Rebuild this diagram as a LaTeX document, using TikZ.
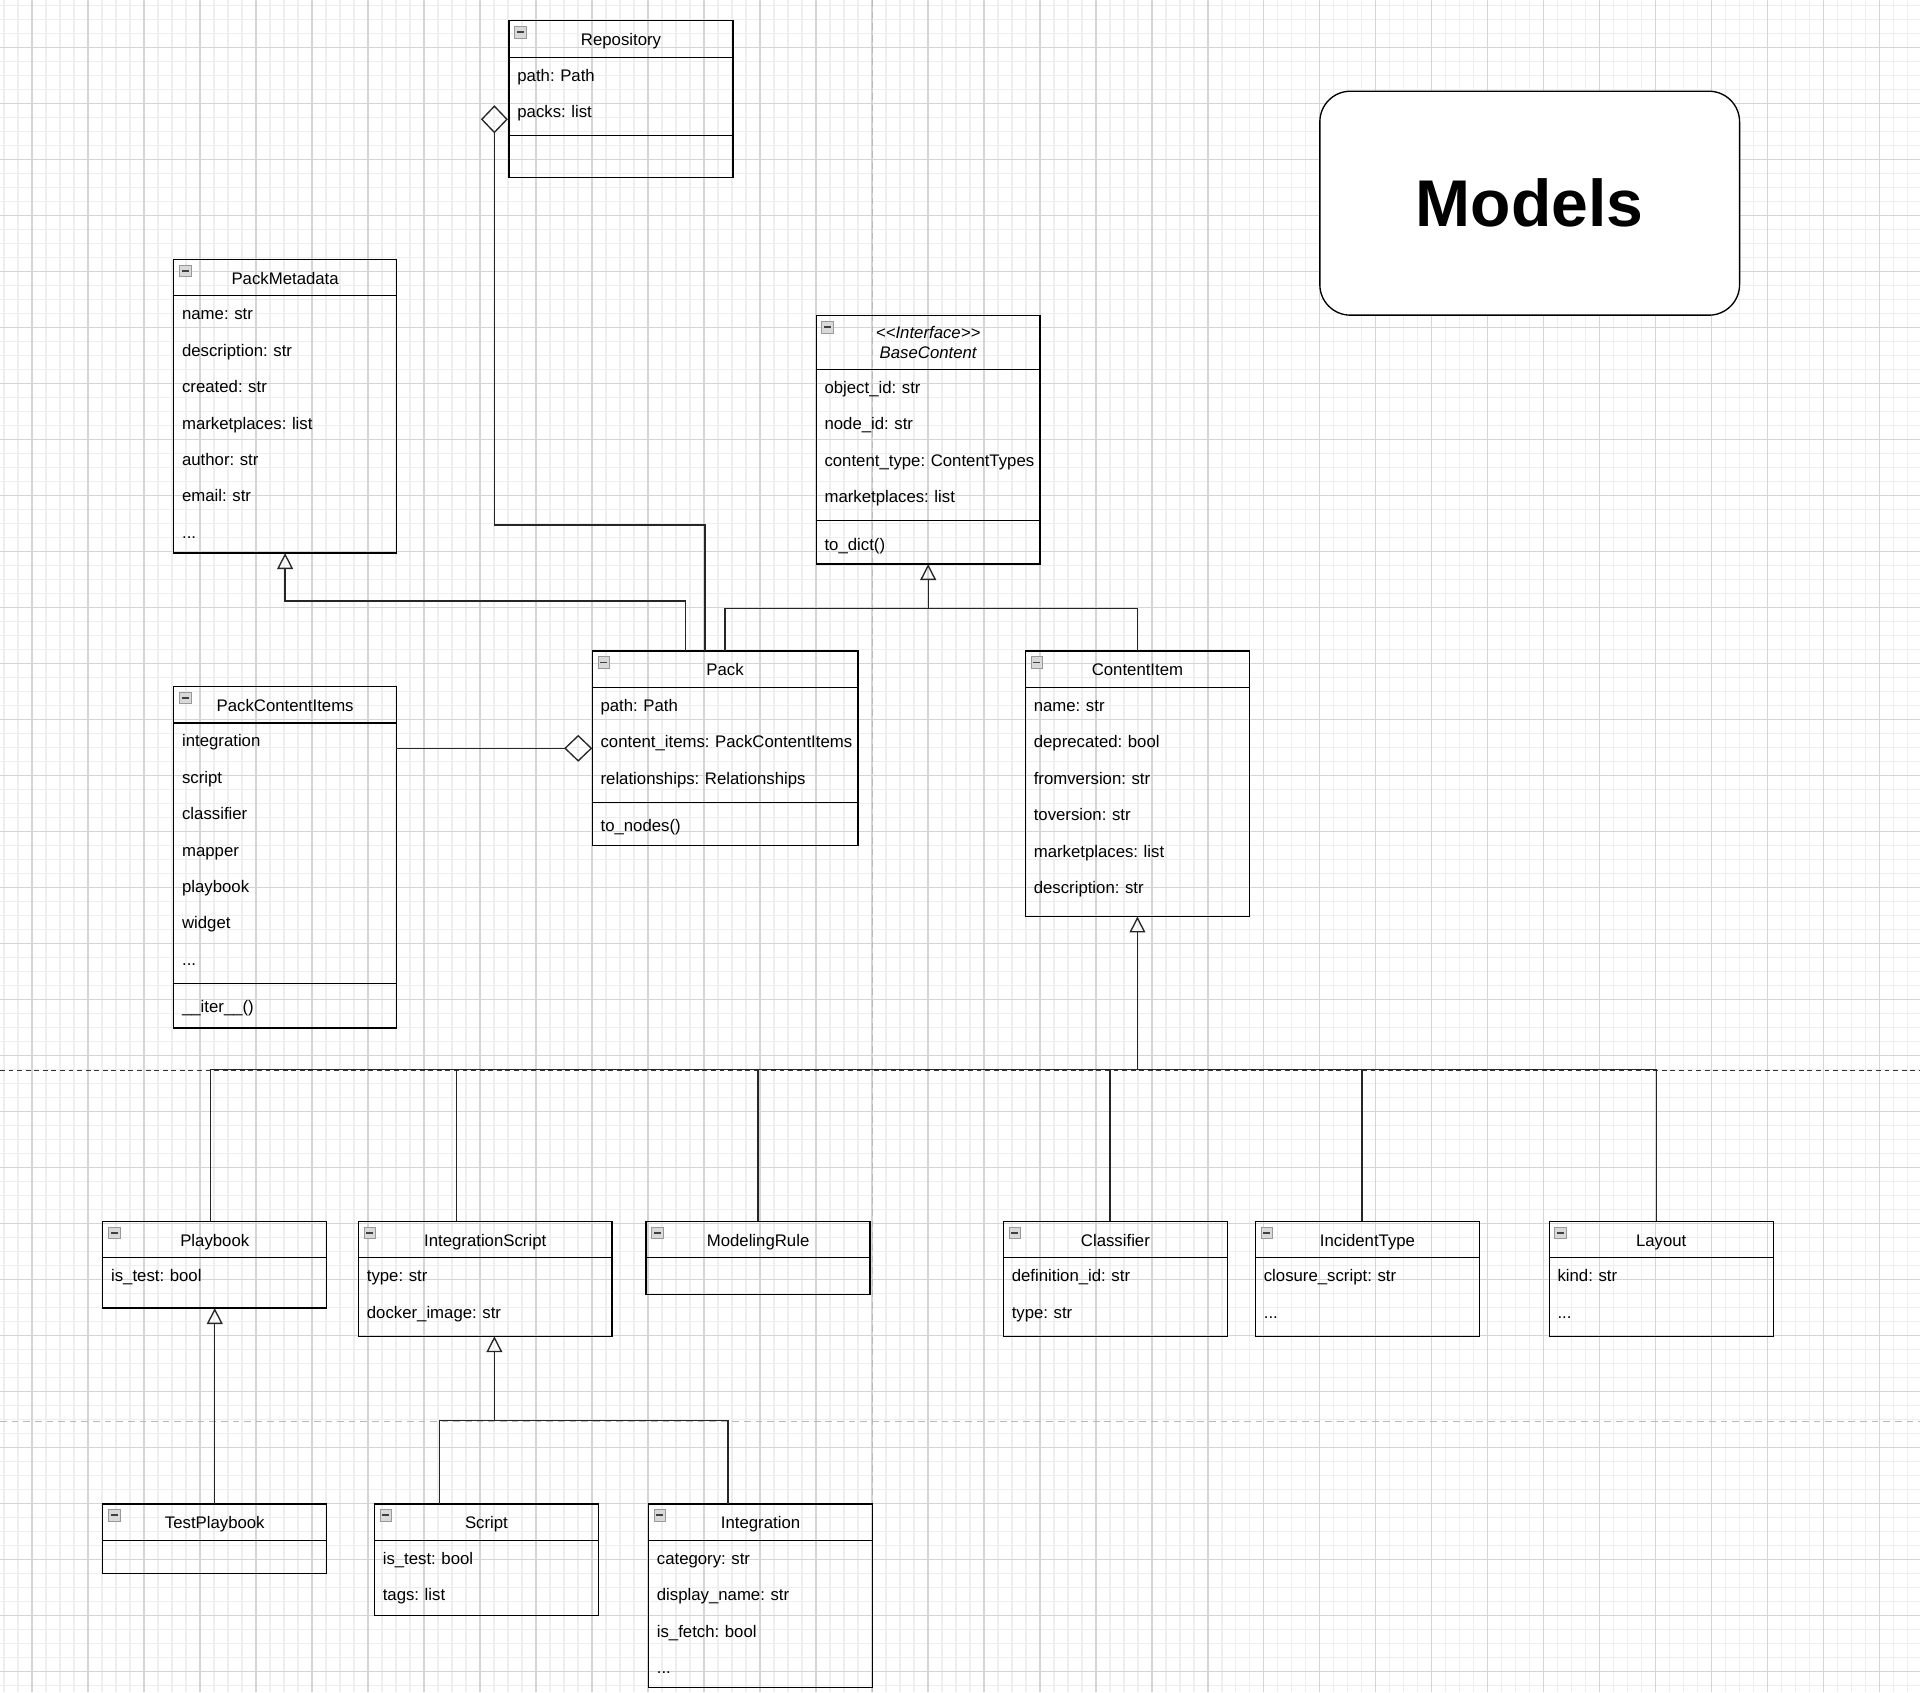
\documentclass[tikz,border=0pt]{standalone}
\usepackage{fontspec}
\setmainfont{Liberation Sans}
\frenchspacing
\usetikzlibrary{arrows.meta, positioning}
\definecolor{gridlight}{RGB}{238,238,238}
\definecolor{griddark}{RGB}{212,212,212}
\definecolor{pagegray}{RGB}{185,185,185}
\newcommand{\rowstrut}{\rule[-10.1pt]{0pt}{29.74pt}}
\tikzstyle{gridminor} = [draw=gridlight, line width=0.9pt]
\tikzstyle{gridmajor} = [draw=griddark, line width=0.9pt]
\tikzstyle{pageline} = [draw=pagegray, line width=1pt, dash pattern=on 5.5pt off 4pt]
\tikzstyle{cutline} = [draw=black!80, line width=0.9pt, dash pattern=on 4pt off 3pt]
\tikzstyle{umlbox} = [rectangle, draw=black, line width=1.1pt, inner sep=0pt, outer sep=0pt, anchor=north west]
\tikzstyle{umlhead} = [rectangle, draw=black, line width=1.1pt, inner sep=0pt, outer sep=0pt, anchor=north, minimum height=29.74, text height=15pt, text depth=4pt, font=\fontsize{13.7}{16.5}\selectfont,
	path picture={
		\draw [draw=gray!80, fill=gray!30, line width=0.6pt] ([xshift=4.6pt,yshift=-4.6pt]path picture bounding box.north west) rectangle ++(9.5pt,-9.5pt);
		\fill [black!75] ([xshift=6.4pt,yshift=-8.6pt]path picture bounding box.north west) rectangle ++(5.7pt,-1.5pt);
	}]
\tikzstyle{umlattr} = [anchor=north west, inner xsep=6.8pt, inner ysep=0pt, outer sep=0pt, text width=300pt, align=left, font=\fontsize{13.7}{29.74}\selectfont, execute at begin node=\rowstrut, execute at end node=\rowstrut]
\tikzstyle{umlsep} = [draw=black, line width=1.1pt]
\tikzstyle{titlebox} = [rectangle, rounded corners=25pt, draw=black, fill=white, line width=1.1pt, anchor=north west, minimum width=343, minimum height=183, font=\fontsize{54}{60}\selectfont\bfseries]
\tikzstyle{conn} = [draw=black!85, line width=1.1pt]
\tikzstyle{inherit} = [conn, -{Triangle[open, length=13pt, width=13pt]}]
\tikzstyle{aggr} = [conn, -{Diamond[open, length=23pt, width=22pt]}]

\begin{document}
\begin{tikzpicture}[x=1pt, y=-1pt]
	\useasboundingbox (0,0) rectangle (1569,1382.7);
	\fill [white] (0,0) rectangle (1569,1382.7);
	% grid
	\foreach \i in {0,...,137} \draw [gridminor] (3.27+11.44*\i,0) -- (3.27+11.44*\i,1382.7);
	\foreach \i in {0,...,120} \draw [gridminor] (0,4.68+11.44*\i) -- (1569,4.68+11.44*\i);
	\foreach \i in {0,...,33} \draw [gridmajor] (26.15+45.76*\i,0) -- (26.15+45.76*\i,1382.7);
	\foreach \i in {0,...,29} \draw [gridmajor] (0,39+45.76*\i) -- (1569,39+45.76*\i);
	\draw [pageline] (713.2,0) -- (713.2,1382.7);
	\draw [pageline] (0,1161.8) -- (1569,1161.8);
	\draw [cutline] (0,875) -- (1569,875);
	
	\node (title) [titlebox] at (1078,74) {Models};
	
	% Repository
	\node (repo) [umlbox, minimum width=183, minimum height=128] at (416,17) {};
	\node (repo-h) [umlhead, minimum width=183] at (repo.north) {Repository};
	\node (repo-a) [umlattr] at (repo-h.south west) {path: Path\\packs: list};
	\draw [umlsep] (repo-a.south west) ++(0,4.58) -- ++(183,0);
	
	% PackMetadata
	\node (meta) [umlbox, minimum width=182, minimum height=240] at (142,212) {};
	\node (meta-h) [umlhead, minimum width=182] at (meta.north) {PackMetadata};
	\node (meta-a) [umlattr] at (meta-h.south west) {name: str\\description: str\\created: str\\marketplaces: list\\author: str\\email: str\\...};
	
	% BaseContent
	\node (base) [umlbox, minimum width=183, minimum height=203] at (667,258) {};
	\node (base-h) [umlhead, minimum width=183, minimum height=44, align=center, text height=26.5pt, text depth=0pt, font=\fontsize{13.7}{16.5}\selectfont\itshape] at (base.north) {<\kern0pt<Interface>\kern0pt>\\BaseContent};
	\node (base-a) [umlattr] at (base-h.south west) {object\_id: str\\node\_id: str\\content\_type: ContentTypes\\marketplaces: list};
	\draw [umlsep] (base-a.south west) ++(0,4.58) -- ++(183,0);
	\node (base-o) [umlattr, below=9.16pt of base-a.south west, anchor=north west] {to\_dict()};
	
	% Pack
	\node (pack) [umlbox, minimum width=217, minimum height=159] at (484,532) {};
	\node (pack-h) [umlhead, minimum width=217] at (pack.north) {Pack};
	\node (pack-a) [umlattr] at (pack-h.south west) {path: Path\\content\_items: PackContentItems\\relationships: Relationships};
	\draw [umlsep] (pack-a.south west) ++(0,4.58) -- ++(217,0);
	\node (pack-o) [umlattr, below=9.16pt of pack-a.south west, anchor=north west] {to\_nodes()};
	
	% PackContentItems
	\node (items) [umlbox, minimum width=182, minimum height=279] at (142,561) {};
	\node (items-h) [umlhead, minimum width=182] at (items.north) {PackContentItems};
	\node (items-a) [umlattr] at (items-h.south west) {integration\\script\\classifier\\mapper\\playbook\\widget\\...};
	\draw [umlsep] (items-a.south west) ++(0,4.58) -- ++(182,0);
	\node (items-o) [umlattr, below=9.16pt of items-a.south west, anchor=north west] {\_\_iter\_\_()};
	
	% ContentItem
	\node (citem) [umlbox, minimum width=183, minimum height=217] at (838,532) {};
	\node (citem-h) [umlhead, minimum width=183] at (citem.north) {ContentItem};
	\node (citem-a) [umlattr] at (citem-h.south west) {name: str\\deprecated: bool\\fromversion: str\\toversion: str\\marketplaces: list\\description: str};
	
	% content types
	\node (playbook) [umlbox, minimum width=183, minimum height=71] at (84,998) {};
	\node (playbook-h) [umlhead, minimum width=183] at (playbook.north) {Playbook};
	\node (playbook-a) [umlattr] at (playbook-h.south west) {is\_test: bool};
	
	\node (intscript) [umlbox, minimum width=207, minimum height=94] at (293,998) {};
	\node (intscript-h) [umlhead, minimum width=207] at (intscript.north) {IntegrationScript};
	\node (intscript-a) [umlattr] at (intscript-h.south west) {type: str\\docker\_image: str};
	
	\node (modrule) [umlbox, minimum width=183, minimum height=60] at (528,998) {};
	\node (modrule-h) [umlhead, minimum width=183] at (modrule.north) {ModelingRule};
	
	\node (classifier) [umlbox, minimum width=183, minimum height=94] at (820,998) {};
	\node (classifier-h) [umlhead, minimum width=183] at (classifier.north) {Classifier};
	\node (classifier-a) [umlattr] at (classifier-h.south west) {definition\_id: str\\type: str};
	
	\node (inctype) [umlbox, minimum width=183, minimum height=94] at (1026,998) {};
	\node (inctype-h) [umlhead, minimum width=183] at (inctype.north) {IncidentType};
	\node (inctype-a) [umlattr] at (inctype-h.south west) {closure\_script: str\\...};
	
	\node (layout) [umlbox, minimum width=183, minimum height=94] at (1266,998) {};
	\node (layout-h) [umlhead, minimum width=183] at (layout.north) {Layout};
	\node (layout-a) [umlattr] at (layout-h.south west) {kind: str\\...};
	
	\node (testpb) [umlbox, minimum width=183, minimum height=57] at (84,1229) {};
	\node (testpb-h) [umlhead, minimum width=183] at (testpb.north) {TestPlaybook};
	
	\node (script) [umlbox, minimum width=183, minimum height=91] at (306,1229) {};
	\node (script-h) [umlhead, minimum width=183] at (script.north) {Script};
	\node (script-a) [umlattr] at (script-h.south west) {is\_test: bool\\tags: list};
	
	\node (integ) [umlbox, minimum width=183, minimum height=150] at (530,1229) {};
	\node (integ-h) [umlhead, minimum width=183] at (integ.north) {Integration};
	\node (integ-a) [umlattr] at (integ-h.south west) {category: str\\display\_name: str\\is\_fetch: bool\\...};
	
	% connectors
	\coordinate (repo-port) at ([xshift=-12pt,yshift=-5pt]repo.west);
	\draw [aggr] ([xshift=-16.5pt]pack.north) -- ++(0,-103) -| (repo-port);
	\draw [inherit] ([xshift=-32.5pt]pack.north) -- ++(0,-41) -| (meta.south);
	\draw [aggr] (items.east |- pack.west) -- (pack.west);
	
	\coordinate (base-bus) at ([yshift=-36pt]base.south);
	\draw [inherit] (base-bus) -- (base.south);
	\draw [conn] (pack.north) |- (base-bus) -| (citem.north);
	
	\coordinate (item-bus) at ([yshift=-125pt]citem.south);
	\draw [inherit] (item-bus) -- (citem.south);
	\foreach \n/\dx in {playbook/-3.5, intscript/-23.5, modrule/0, classifier/-4.5, inctype/-4.5, layout/-4}
		\draw [conn] ([xshift=\dx pt]\n.north) |- (item-bus);
	
	\draw [inherit] (testpb.north) -- (playbook.south);
	\coordinate (is-bus) at ([xshift=7.5pt,yshift=-69pt]intscript.south);
	\draw [inherit] (is-bus) -- (is-bus |- intscript.south);
	\draw [conn] ([xshift=-38.5pt]script.north) |- (is-bus) -| ([xshift=-26.5pt]integ.north);
\end{tikzpicture}
\end{document}
